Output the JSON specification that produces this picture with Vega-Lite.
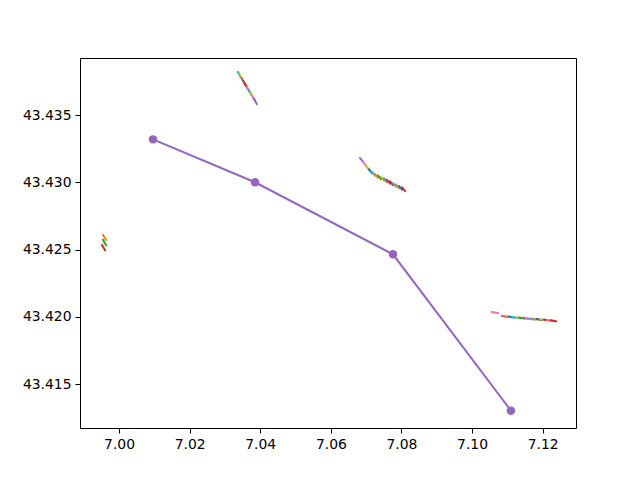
{
  "$schema": "https://vega.github.io/schema/vega-lite/v6.json",
  "width": 496,
  "height": 370,
  "autosize": {"type": "none"},
  "padding": {"left": 80, "top": 58, "right": 64, "bottom": 52},
  "background": "white",
  "config": {
    "view": {"stroke": "black", "strokeWidth": 1},
    "axis": {
      "domain": false, "grid": false, "tickColor": "black", "tickSize": 5, "tickWidth": 1,
      "labelColor": "black", "labelFont": "DejaVu Sans", "labelFontSize": 13.9, "labelPadding": 4
    }
  },
  "datasets": {
    "segs": [
      {"seg": 1, "c": "9", "lon": 7.03370, "lat": 43.43820}, {"seg": 1, "c": "9", "lon": 7.03441, "lat": 43.43783},
      {"seg": 2, "c": "8", "lon": 7.03421, "lat": 43.43798}, {"seg": 2, "c": "8", "lon": 7.03492, "lat": 43.43761},
      {"seg": 3, "c": "4", "lon": 7.03472, "lat": 43.43775}, {"seg": 3, "c": "4", "lon": 7.03543, "lat": 43.43738},
      {"seg": 4, "c": "5", "lon": 7.03523, "lat": 43.43753}, {"seg": 4, "c": "5", "lon": 7.03594, "lat": 43.43716},
      {"seg": 5, "c": "3", "lon": 7.03574, "lat": 43.43731}, {"seg": 5, "c": "3", "lon": 7.03645, "lat": 43.43694},
      {"seg": 6, "c": "6", "lon": 7.03625, "lat": 43.43709}, {"seg": 6, "c": "6", "lon": 7.03696, "lat": 43.43672},
      {"seg": 7, "c": "9", "lon": 7.03676, "lat": 43.43686}, {"seg": 7, "c": "9", "lon": 7.03747, "lat": 43.43649},
      {"seg": 8, "c": "8", "lon": 7.03727, "lat": 43.43664}, {"seg": 8, "c": "8", "lon": 7.03798, "lat": 43.43627},
      {"seg": 9, "c": "6", "lon": 7.03778, "lat": 43.43642}, {"seg": 9, "c": "6", "lon": 7.03849, "lat": 43.43605},
      {"seg": 10, "c": "4", "lon": 7.03829, "lat": 43.43619}, {"seg": 10, "c": "4", "lon": 7.03900, "lat": 43.43582},

      {"seg": 11, "c": "4", "lon": 7.06825, "lat": 43.43180}, {"seg": 11, "c": "4", "lon": 7.06910, "lat": 43.43154},
      {"seg": 12, "c": "6", "lon": 7.06910, "lat": 43.43151}, {"seg": 12, "c": "6", "lon": 7.06995, "lat": 43.43125},
      {"seg": 13, "c": "8", "lon": 7.06995, "lat": 43.43121}, {"seg": 13, "c": "8", "lon": 7.07080, "lat": 43.43095},
      {"seg": 14, "c": "0", "lon": 7.07080, "lat": 43.43095}, {"seg": 14, "c": "0", "lon": 7.07165, "lat": 43.43069},
      {"seg": 15, "c": "9", "lon": 7.07165, "lat": 43.43076}, {"seg": 15, "c": "9", "lon": 7.07250, "lat": 43.43050},
      {"seg": 16, "c": "1", "lon": 7.07250, "lat": 43.43061}, {"seg": 16, "c": "1", "lon": 7.07335, "lat": 43.43035},
      {"seg": 17, "c": "2", "lon": 7.07335, "lat": 43.43050}, {"seg": 17, "c": "2", "lon": 7.07420, "lat": 43.43024},
      {"seg": 18, "c": "8", "lon": 7.07420, "lat": 43.43039}, {"seg": 18, "c": "8", "lon": 7.07505, "lat": 43.43013},
      {"seg": 19, "c": "7", "lon": 7.07505, "lat": 43.43028}, {"seg": 19, "c": "7", "lon": 7.07590, "lat": 43.43002},
      {"seg": 20, "c": "5", "lon": 7.07590, "lat": 43.43017}, {"seg": 20, "c": "5", "lon": 7.07675, "lat": 43.42991},
      {"seg": 21, "c": "3", "lon": 7.07675, "lat": 43.43006}, {"seg": 21, "c": "3", "lon": 7.07760, "lat": 43.42980},
      {"seg": 22, "c": "9", "lon": 7.07760, "lat": 43.42994}, {"seg": 22, "c": "9", "lon": 7.07845, "lat": 43.42968},
      {"seg": 23, "c": "1", "lon": 7.07845, "lat": 43.42983}, {"seg": 23, "c": "1", "lon": 7.07930, "lat": 43.42957},
      {"seg": 24, "c": "0", "lon": 7.07930, "lat": 43.42972}, {"seg": 24, "c": "0", "lon": 7.08015, "lat": 43.42946},
      {"seg": 25, "c": "3", "lon": 7.08015, "lat": 43.42961}, {"seg": 25, "c": "3", "lon": 7.08100, "lat": 43.42935},

      {"seg": 26, "c": "6", "lon": 7.10563, "lat": 43.42035}, {"seg": 26, "c": "6", "lon": 7.10733, "lat": 43.42028},
      {"seg": 27, "c": "4", "lon": 7.10847, "lat": 43.42006}, {"seg": 27, "c": "4", "lon": 7.10988, "lat": 43.41998},
      {"seg": 28, "c": "1", "lon": 7.10946, "lat": 43.42004}, {"seg": 28, "c": "1", "lon": 7.11087, "lat": 43.41996},
      {"seg": 29, "c": "0", "lon": 7.11045, "lat": 43.42002}, {"seg": 29, "c": "0", "lon": 7.11186, "lat": 43.41994},
      {"seg": 30, "c": "9", "lon": 7.11144, "lat": 43.41999}, {"seg": 30, "c": "9", "lon": 7.11285, "lat": 43.41991},
      {"seg": 31, "c": "8", "lon": 7.11243, "lat": 43.41997}, {"seg": 31, "c": "8", "lon": 7.11384, "lat": 43.41989},
      {"seg": 32, "c": "2", "lon": 7.11343, "lat": 43.41995}, {"seg": 32, "c": "2", "lon": 7.11484, "lat": 43.41987},
      {"seg": 33, "c": "7", "lon": 7.11442, "lat": 43.41993}, {"seg": 33, "c": "7", "lon": 7.11583, "lat": 43.41985},
      {"seg": 34, "c": "6", "lon": 7.11541, "lat": 43.41990}, {"seg": 34, "c": "6", "lon": 7.11682, "lat": 43.41982},
      {"seg": 35, "c": "9", "lon": 7.11640, "lat": 43.41988}, {"seg": 35, "c": "9", "lon": 7.11781, "lat": 43.41980},
      {"seg": 36, "c": "1", "lon": 7.11739, "lat": 43.41986}, {"seg": 36, "c": "1", "lon": 7.11880, "lat": 43.41978},
      {"seg": 37, "c": "0", "lon": 7.11838, "lat": 43.41984}, {"seg": 37, "c": "0", "lon": 7.11979, "lat": 43.41976},
      {"seg": 38, "c": "8", "lon": 7.11937, "lat": 43.41981}, {"seg": 38, "c": "8", "lon": 7.12078, "lat": 43.41973},
      {"seg": 39, "c": "3", "lon": 7.12036, "lat": 43.41979}, {"seg": 39, "c": "3", "lon": 7.12177, "lat": 43.41971},
      {"seg": 40, "c": "6", "lon": 7.12135, "lat": 43.41977}, {"seg": 40, "c": "6", "lon": 7.12276, "lat": 43.41969},
      {"seg": 41, "c": "3", "lon": 7.12234, "lat": 43.41975}, {"seg": 41, "c": "3", "lon": 7.12375, "lat": 43.41967},

      {"seg": 42, "c": "1", "lon": 6.99547, "lat": 43.42608}, {"seg": 42, "c": "1", "lon": 6.99632, "lat": 43.42571},
      {"seg": 43, "c": "2", "lon": 6.99547, "lat": 43.42571}, {"seg": 43, "c": "2", "lon": 6.99632, "lat": 43.42533},
      {"seg": 44, "c": "3", "lon": 6.99519, "lat": 43.42533}, {"seg": 44, "c": "3", "lon": 6.99604, "lat": 43.42496}
    ],
    "track": [
      {"lon": 7.00963, "lat": 43.43319},
      {"lon": 7.03852, "lat": 43.43000},
      {"lon": 7.07760, "lat": 43.42464},
      {"lon": 7.11101, "lat": 43.41302}
    ]
  },
  "encoding": {
    "x": {
      "field": "lon", "type": "quantitative",
      "scale": {"domain": [6.98895, 7.12943], "nice": false, "zero": false},
      "axis": {"title": null, "values": [7.00, 7.02, 7.04, 7.06, 7.08, 7.10, 7.12], "format": ".2f"}
    },
    "y": {
      "field": "lat", "type": "quantitative",
      "scale": {"domain": [43.41173, 43.43924], "nice": false, "zero": false},
      "axis": {"title": null, "values": [43.415, 43.420, 43.425, 43.430, 43.435], "format": ".3f"}
    }
  },
  "layer": [
    {
      "data": {"name": "segs"},
      "mark": {"type": "line", "strokeWidth": 2, "strokeCap": "square"},
      "encoding": {
        "detail": {"field": "seg", "type": "nominal"},
        "color": {
          "field": "c", "type": "nominal", "legend": null,
          "scale": {
            "domain": ["0", "1", "2", "3", "4", "5", "6", "7", "8", "9"],
            "range": ["#1f77b4", "#ff7f0e", "#2ca02c", "#d62728", "#9467bd", "#8c564b", "#e377c2", "#7f7f7f", "#bcbd22", "#17becf"]
          }
        }
      }
    },
    {
      "data": {"name": "track"},
      "mark": {"type": "line", "color": "#9467bd", "strokeWidth": 2.1},
      "encoding": {}
    },
    {
      "data": {"name": "track"},
      "mark": {"type": "circle", "color": "#9467bd", "size": 72, "opacity": 1},
      "encoding": {}
    }
  ]
}
